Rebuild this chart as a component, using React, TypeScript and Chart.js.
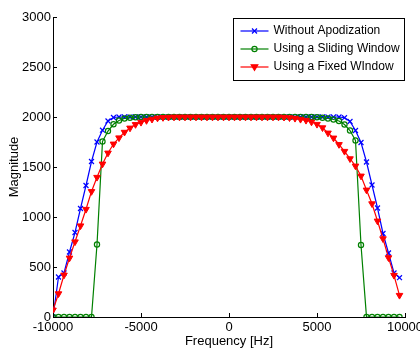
import React, { useEffect, useRef } from "react";
import { Chart, registerables } from "chart.js";

Chart.register(...registerables);

// Frequency samples [Hz]
const freqHz = [
  -10000, -9687.5, -9375, -9062.5, -8750, -8437.5, -8125, -7812.5,
  -7500, -7187.5, -6875, -6562.5, -6250, -5937.5, -5625, -5312.5,
  -5000, -4687.5, -4375, -4062.5, -3750, -3437.5, -3125, -2812.5,
  -2500, -2187.5, -1875, -1562.5, -1250, -937.5, -625, -312.5,
  0, 312.5, 625, 937.5, 1250, 1562.5, 1875, 2187.5,
  2500, 2812.5, 3125, 3437.5, 3750, 4062.5, 4375, 4687.5,
  5000, 5312.5, 5625, 5937.5, 6250, 6562.5, 6875, 7187.5,
  7500, 7812.5, 8125, 8437.5, 8750, 9062.5, 9375, 9687.5,
];

const withoutApodization = [
  0, 400, 440, 650, 845, 1085, 1315, 1555,
  1750, 1868, 1960, 1995, 2000, 2000, 2000, 2000,
  2000, 2000, 2000, 2000, 2000, 2000, 2000, 2000,
  2000, 2000, 2000, 2000, 2000, 2000, 2000, 2000,
  2000, 2000, 2000, 2000, 2000, 2000, 2000, 2000,
  2000, 2000, 2000, 2000, 2000, 2000, 2000, 2000,
  2000, 2000, 2000, 2000, 2000, 1993, 1955, 1865,
  1745, 1550, 1320, 1090, 835, 640, 440, 393,
];

const slidingWindow = [
  0, 0, 0, 0, 0, 0, 0, 0,
  725, 1755, 1860, 1927, 1965, 1985, 1993, 1998,
  2000, 2000, 2000, 2000, 2000, 2000, 2000, 2000,
  2000, 2000, 2000, 2000, 2000, 2000, 2000, 2000,
  2000, 2000, 2000, 2000, 2000, 2000, 2000, 2000,
  2000, 2000, 2000, 2000, 2000, 2000, 2000, 2000,
  1997, 1993, 1985, 1975, 1960, 1925, 1865, 1765,
  720, 0, 0, 0, 0, 0, 0, 0,
];

const fixedWindow = [
  70, 233, 420, 590, 752, 912, 1077, 1255,
  1397, 1530, 1640, 1730, 1792, 1848, 1890, 1925,
  1947, 1965, 1978, 1990, 1995, 1998, 2000, 2000,
  2000, 2000, 2000, 2000, 2000, 2000, 2000, 2000,
  2000, 2000, 2000, 2000, 2000, 2000, 2000, 2000,
  2000, 2000, 1998, 1993, 1987, 1977, 1967, 1950,
  1927, 1893, 1840, 1790, 1725, 1657, 1583, 1510,
  1410, 1270, 1133, 960, 783, 593, 417, 217,
];

const seriesLabels = [
  "Without Apodization",
  "Using a Sliding Window",
  "Using a Fixed WIndow",
];
const seriesColors = ["#0000ff", "#008000", "#ff0000"];
const xTickValues = [-10000, -5000, 0, 5000, 10000];
const yTickValues = [0, 500, 1000, 1500, 2000, 2500, 3000];
const xTitle = "Frequency [Hz]";
const yTitle = "Magnitude";

const FONT = "'Liberation Sans', Arial, Helvetica, sans-serif";

function drawMarker(ctx: CanvasRenderingContext2D, kind: number, x: number, y: number, color: string) {
  ctx.save();
  ctx.strokeStyle = color;
  ctx.fillStyle = color;
  ctx.lineWidth = 1.2;
  if (kind === 0) {
    const r = 2.5;
    ctx.beginPath();
    ctx.moveTo(x - r, y - r);
    ctx.lineTo(x + r, y + r);
    ctx.moveTo(x - r, y + r);
    ctx.lineTo(x + r, y - r);
    ctx.stroke();
  } else if (kind === 1) {
    ctx.beginPath();
    ctx.arc(x, y, 2.6, 0, Math.PI * 2);
    ctx.stroke();
  } else {
    ctx.beginPath();
    ctx.moveTo(x - 3.3, y - 2.2);
    ctx.lineTo(x + 3.3, y - 2.2);
    ctx.lineTo(x, y + 3.3);
    ctx.closePath();
    ctx.fill();
    ctx.stroke();
  }
  ctx.restore();
}

const inwardTicksPlugin = {
  id: "inwardTicks",
  afterDraw(chart: any) {
    const { ctx, chartArea } = chart;
    const xs = chart.scales.x;
    const ys = chart.scales.y;
    ctx.save();
    ctx.strokeStyle = "#000";
    ctx.lineWidth = 1;
    ctx.beginPath();
    for (const v of xTickValues) {
      const px = Math.round(xs.getPixelForValue(v)) + 0.5;
      ctx.moveTo(px, chartArea.bottom);
      ctx.lineTo(px, chartArea.bottom - 4);
    }
    for (const v of yTickValues) {
      const py = Math.round(ys.getPixelForValue(v)) + 0.5;
      ctx.moveTo(chartArea.left, py);
      ctx.lineTo(chartArea.left + 4, py);
    }
    ctx.stroke();
    ctx.restore();
  },
};

const boxLegendPlugin = {
  id: "boxLegend",
  afterDraw(chart: any) {
    const { ctx, chartArea } = chart;
    const w = 171;
    const h = 62;
    const bx = Math.round(chartArea.right - 1 - w) + 0.5;
    const by = Math.round(chartArea.top + 1) + 0.5;
    ctx.save();
    ctx.fillStyle = "#ffffff";
    ctx.fillRect(bx, by, w, h);
    ctx.strokeStyle = "#000000";
    ctx.lineWidth = 1;
    ctx.strokeRect(bx, by, w, h);
    ctx.font = `12px ${FONT}`;
    ctx.textBaseline = "middle";
    ctx.textAlign = "left";
    for (let i = 0; i < seriesLabels.length; i++) {
      const ry = Math.round(by + 12 + i * 18);
      ctx.strokeStyle = seriesColors[i];
      ctx.lineWidth = 1.2;
      ctx.beginPath();
      ctx.moveTo(bx + 7, ry);
      ctx.lineTo(bx + 35, ry);
      ctx.stroke();
      drawMarker(ctx, i, bx + 21, ry, seriesColors[i]);
      ctx.fillStyle = "#000000";
      ctx.fillText(seriesLabels[i], bx + 40, ry);
    }
    ctx.restore();
  },
};

function toPoints(values: number[]) {
  return values.map((y, i) => ({ x: freqHz[i], y }));
}

export default function App() {
  const canvasRef = useRef<HTMLCanvasElement | null>(null);

  useEffect(() => {
    const canvas = canvasRef.current;
    if (!canvas) return;
    const chart = new Chart(canvas, {
      type: "line",
      data: {
        datasets: [
          {
            label: seriesLabels[0],
            data: toPoints(withoutApodization),
            borderColor: seriesColors[0],
            backgroundColor: seriesColors[0],
            borderWidth: 1.2,
            pointStyle: "crossRot",
            pointRadius: 3.5,
            pointBorderWidth: 1.2,
            pointBorderColor: seriesColors[0],
            order: 2,
          },
          {
            label: seriesLabels[1],
            data: toPoints(slidingWindow),
            borderColor: seriesColors[1],
            backgroundColor: "rgba(0,0,0,0)",
            borderWidth: 1.2,
            pointStyle: "circle",
            pointRadius: 2.6,
            pointBorderWidth: 1.2,
            pointBorderColor: seriesColors[1],
            pointBackgroundColor: "rgba(0,0,0,0)",
            order: 1,
          },
          {
            label: seriesLabels[2],
            data: toPoints(fixedWindow),
            borderColor: seriesColors[2],
            backgroundColor: seriesColors[2],
            borderWidth: 1.2,
            pointStyle: "triangle",
            pointRotation: 180,
            pointRadius: 3.8,
            pointBorderWidth: 1,
            pointBorderColor: seriesColors[2],
            pointBackgroundColor: seriesColors[2],
            order: 0,
          },
        ],
      },
      options: {
        animation: false,
        responsive: false,
        events: [],
        layout: { padding: { left: 0, right: 15, top: 17, bottom: 0 } },
        plugins: {
          legend: { display: false },
          tooltip: { enabled: false },
        },
        elements: { line: { tension: 0 } },
        scales: {
          x: {
            type: "linear",
            min: -10000,
            max: 10000,
            afterBuildTicks: (scale: any) => {
              scale.ticks = xTickValues.map((value) => ({ value }));
            },
            afterFit: (scale: any) => {
              scale.height = 35;
              scale.paddingLeft = 0;
              scale.paddingRight = 0;
            },
            grid: { display: true, drawOnChartArea: false, drawTicks: false },
            border: { display: true, color: "#000", width: 1 },
            ticks: {
              color: "#000",
              padding: 3,
              maxRotation: 0,
              autoSkip: false,
              font: { family: FONT, size: 13 },
              callback: (v: any) => String(v),
            },
            title: {
              display: true,
              text: xTitle,
              color: "#000",
              font: { family: FONT, size: 13 },
              padding: { top: 0, bottom: 3 },
            },
          },
          y: {
            type: "linear",
            min: 0,
            max: 3000,
            afterBuildTicks: (scale: any) => {
              scale.ticks = yTickValues.map((value) => ({ value }));
            },
            afterFit: (scale: any) => {
              scale.width = 53;
            },
            grid: { display: true, drawOnChartArea: false, drawTicks: false },
            border: { display: true, color: "#000", width: 1 },
            ticks: {
              color: "#000",
              padding: 2,
              autoSkip: false,
              font: { family: FONT, size: 13 },
              callback: (v: any) => String(v),
            },
            title: {
              display: true,
              text: yTitle,
              color: "#000",
              font: { family: FONT, size: 13 },
              padding: { top: 7, bottom: 0 },
            },
          },
        },
      },
      plugins: [inwardTicksPlugin, boxLegendPlugin],
    } as any);
    return () => chart.destroy();
  }, []);

  return (
    <div style={{ position: "fixed", left: 0, top: 0, width: 420, height: 352, background: "#fff" }}>
      <canvas ref={canvasRef} width={420} height={352} style={{ display: "block" }} />
    </div>
  );
}
